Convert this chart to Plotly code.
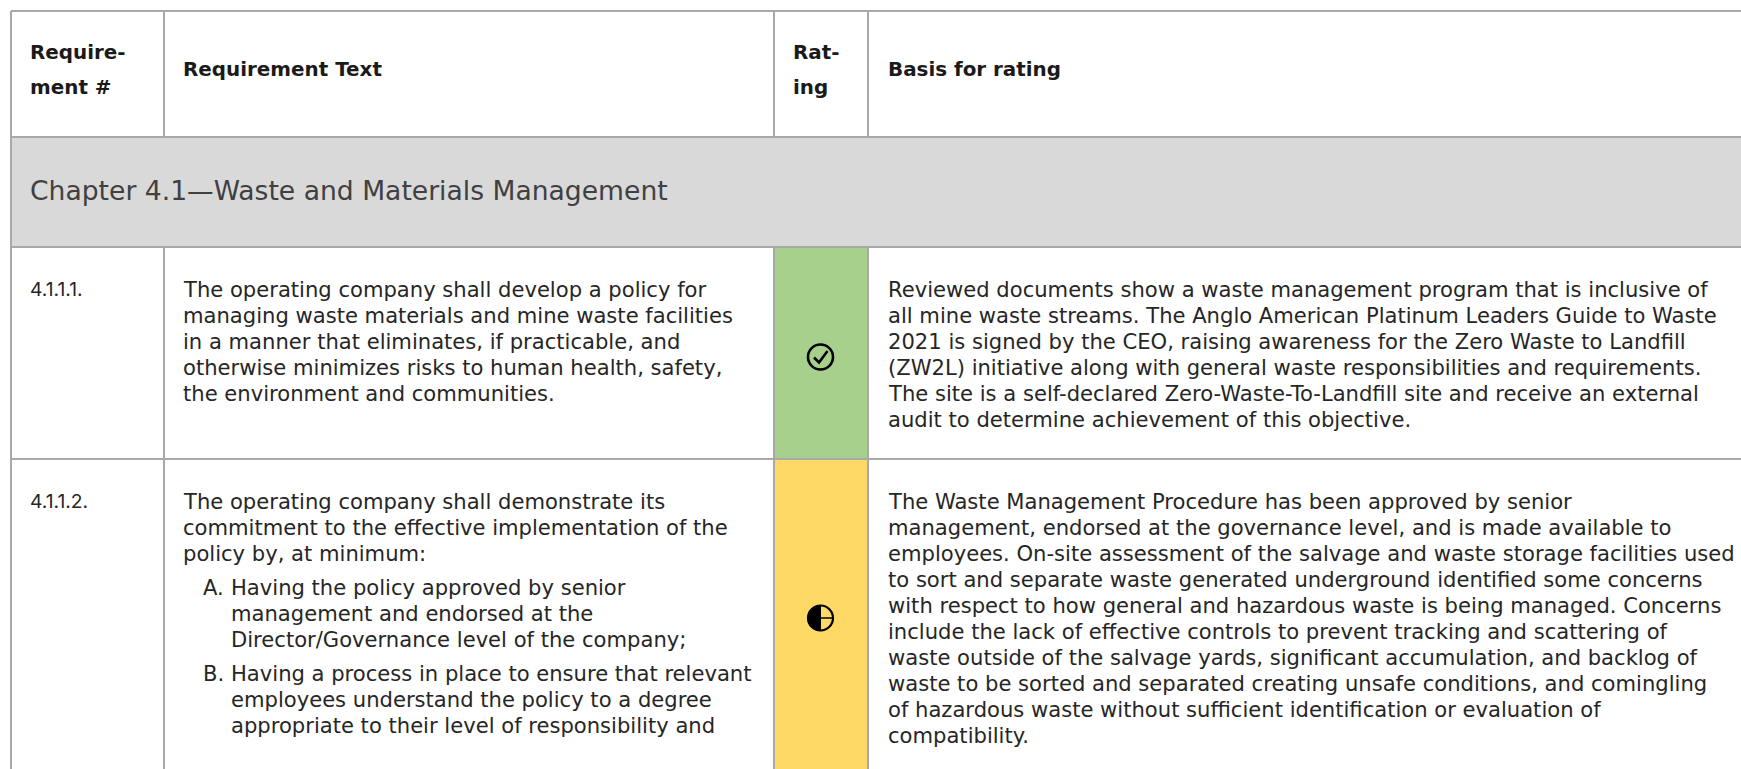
import plotly.graph_objects as go

# ---- content ----
header_req_no = ["Require-", "ment #"]
header_req_text = ["Requirement Text"]
header_rating = ["Rat-", "ing"]
header_basis = ["Basis for rating"]
chapter_title = "Chapter 4.1—Waste and Materials Management"

row1_no = "4.1.1.1."
row1_text = [
    "The operating company shall develop a policy for",
    "managing waste materials and mine waste facilities",
    "in a manner that eliminates, if practicable, and",
    "otherwise minimizes risks to human health, safety,",
    "the environment and communities.",
]
row1_basis = [
    "Reviewed documents show a waste management program that is inclusive of",
    "all mine waste streams. The Anglo American Platinum Leaders Guide to Waste",
    "2021 is signed by the CEO, raising awareness for the Zero Waste to Landfill",
    "(ZW2L) initiative along with general waste responsibilities and requirements.",
    "The site is a self-declared Zero-Waste-To-Landfill site and receive an external",
    "audit to determine achievement of this objective.",
]
row2_no = "4.1.1.2."
row2_text = [
    "The operating company shall demonstrate its",
    "commitment to the effective implementation of the",
    "policy by, at minimum:",
]
row2_item_a = ["Having the policy approved by senior", "management and endorsed at the",
               "Director/Governance level of the company;"]
row2_item_b = ["Having a process in place to ensure that relevant",
               "employees understand the policy to a degree",
               "appropriate to their level of responsibility and"]
row2_basis = [
    "The Waste Management Procedure has been approved by senior",
    "management, endorsed at the governance level, and is made available to",
    "employees. On-site assessment of the salvage and waste storage facilities used",
    "to sort and separate waste generated underground identified some concerns",
    "with respect to how general and hazardous waste is being managed. Concerns",
    "include the lack of effective controls to prevent tracking and scattering of",
    "waste outside of the salvage yards, significant accumulation, and backlog of",
    "waste to be sorted and separated creating unsafe conditions, and comingling",
    "of hazardous waste without sufficient identification or evaluation of",
    "compatibility.",
]

# ---- layout ----
W, H = 1741, 769
LEFT, C1, C2, C3 = 11, 164, 774, 868
TOP, R1, R2, R3 = 11, 137, 247, 459
LINE = "#a9a9a9"
BODY_FONT = "DejaVu Sans"
BODY_SIZE = 21.1
BODY_COLOR = "#262626"
PITCH = 26

shapes = []
annots = []


def rect(x0, y0, x1, y1, fill):
    shapes.append(dict(type="rect", xref="x", yref="y", x0=x0, y0=y0, x1=x1, y1=y1,
                       fillcolor=fill, line_width=0, layer="below"))


def seg(x0, y0, x1, y1, color=LINE, width=2):
    shapes.append(dict(type="line", xref="x", yref="y", x0=x0, y0=y0, x1=x1, y1=y1,
                       line=dict(color=color, width=width)))


def text(x, y, s, size=BODY_SIZE, color=BODY_COLOR, weight=400, family=BODY_FONT):
    annots.append(dict(x=x, y=y, xref="x", yref="y", text=s, showarrow=False,
                       xanchor="left", yanchor="middle", align="left", borderpad=0, borderwidth=0,
                       font=dict(family=family, size=size, color=color, weight=weight)))


def lines(x, y, items, pitch=PITCH, **kw):
    for i, s in enumerate(items):
        text(x, y + i * pitch, s, **kw)


rect(LEFT, R1, W, R2, "#d9d9d9")
rect(C2, R2, C3, R3, "#a8d08d")
rect(C2, R3, C3, H, "#ffd966")

for y in (TOP, R1, R2, R3):
    seg(LEFT, y, W, y)
seg(LEFT, TOP, LEFT, H)
for x in (C1, C2, C3):
    seg(x, TOP, x, R1)
    seg(x, R2, x, H)

HB = dict(weight=700, size=19.9, color="#1a1a1a")
lines(30, 52.5, header_req_no, pitch=35, **HB)
lines(183, 69, header_req_text, **HB)
lines(793, 52.5, header_rating, pitch=35, **HB)
lines(888, 69, header_basis, **HB)
text(30, 190, chapter_title, size=26.6, color="#404040")

NUM = dict(family="Inter", size=19.3)
text(30, 289, row1_no, **NUM)
lines(183, 289, row1_text)
lines(888, 289, row1_basis)

text(30, 501, row2_no, **NUM)
lines(183, 501, row2_text)
text(203, 587, "A.")
lines(231, 587, row2_item_a)
text(203, 673, "B.")
lines(231, 673, row2_item_b)
lines(888, 501, row2_basis)

# rating icons
CX, R = 820.5, 12.5
Y_OK, Y_PART = 357, 618
K = 0.5523 * R
shapes.append(dict(type="circle", xref="x", yref="y", x0=CX - R, x1=CX + R, y0=Y_OK - R, y1=Y_OK + R,
                   line=dict(color="#000000", width=2.6)))
shapes.append(dict(type="path", xref="x", yref="y",
                   path=f"M {CX-6.5} {Y_OK+0.5} L {CX-1.5} {Y_OK+5.5} L {CX+7} {Y_OK-6}",
                   line=dict(color="#000000", width=2.6)))
shapes.append(dict(type="circle", xref="x", yref="y", x0=CX - R, x1=CX + R, y0=Y_PART - R, y1=Y_PART + R,
                   line=dict(color="#000000", width=2.2)))
shapes.append(dict(type="path", xref="x", yref="y", fillcolor="#000000",
                   path=(f"M {CX} {Y_PART-R} C {CX-K} {Y_PART-R} {CX-R} {Y_PART-K} {CX-R} {Y_PART} "
                         f"C {CX-R} {Y_PART+K} {CX-K} {Y_PART+R} {CX} {Y_PART+R} Z"),
                   line=dict(color="#000000", width=1)))
shapes.append(dict(type="line", xref="x", yref="y", x0=CX, x1=CX + R, y0=Y_PART, y1=Y_PART,
                   line=dict(color="#000000", width=1.5)))

fig = go.Figure()
fig.update_layout(
    width=W, height=H, margin=dict(l=0, r=0, t=0, b=0),
    paper_bgcolor="#ffffff", plot_bgcolor="#ffffff", showlegend=False,
    xaxis=dict(range=[0, W], visible=False, fixedrange=True),
    yaxis=dict(range=[H, 0], visible=False, fixedrange=True),
    shapes=shapes, annotations=annots,
)
fig.write_html("out.html", config=dict(displayModeBar=False),
               post_script="document.body.style.margin='0';document.body.style.overflow='hidden';")
